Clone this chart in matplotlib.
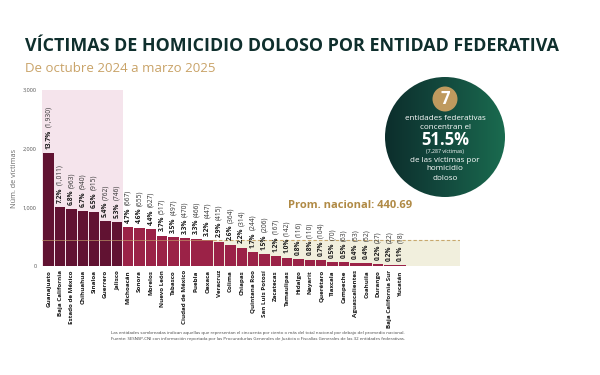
import matplotlib
matplotlib.use("Agg")
import matplotlib.pyplot as plt
import numpy as np
from matplotlib.patches import Circle, Rectangle
from matplotlib.colors import LinearSegmentedColormap

states = ["Guanajuato", "Baja California", "Estado de México", "Chihuahua", "Sinaloa",
          "Guerrero", "Jalisco", "Michoacán", "Sonora", "Morelos", "Nuevo León", "Tabasco",
          "Ciudad de México", "Puebla", "Oaxaca", "Veracruz", "Colima", "Chiapas",
          "Quintana Roo", "San Luis Potosí", "Zacatecas", "Tamaulipas", "Hidalgo", "Nayarit",
          "Querétaro", "Tlaxcala", "Campeche", "Aguascalientes", "Coahuila", "Durango",
          "Baja California Sur", "Yucatán"]
victims = [1930, 1011, 963, 940, 915, 762, 746, 667, 655, 627, 517, 497, 470, 466, 447,
           415, 364, 314, 244, 206, 167, 142, 116, 110, 104, 70, 63, 53, 52, 27, 22, 18]
pcts = [13.7, 7.2, 6.8, 6.7, 6.5, 5.4, 5.3, 4.7, 4.6, 4.4, 3.7, 3.5, 3.3, 3.3, 3.2,
        2.9, 2.6, 2.2, 1.7, 1.5, 1.2, 1.0, 0.8, 0.8, 0.7, 0.5, 0.5, 0.4, 0.4, 0.2, 0.2, 0.1]
national_avg = 440.69
n_top = 7
yticks = [0, 1000, 2000, 3000]

DARK = "#611232"
GUINDA = "#9b2247"
TITLE_C = "#0f2f2d"

plt.rcParams['font.family'] = ['Open Sans', 'DejaVu Sans']

fig = plt.figure(figsize=(6, 3.75), dpi=100)
fig.patch.set_facecolor("white")

ax = fig.add_axes([0.07, 0.2907, 0.697, 0.4693])
ax.set_facecolor("none")
x = np.arange(len(states))
colors = [DARK if i < n_top else GUINDA for i in range(len(states))]

ax.set_xlim(-0.59, 36.24)
ax.set_ylim(0, 3000)

# shaded regions
ax.add_patch(Rectangle((-0.59, 0), n_top - 0.5 + 0.59, 3000, facecolor="#f5e4ec",
                       edgecolor="none", zorder=0))
first_below = next(i for i, v in enumerate(victims) if v < national_avg)
ax.add_patch(Rectangle((first_below - 0.5, 0), 36.24 - first_below + 0.5, national_avg,
                       facecolor="#f1efdd", edgecolor="none", zorder=0))
ax.plot([-0.59, first_below - 0.5], [national_avg] * 2, color="#c8a86e", lw=0.6, alpha=0.7, zorder=3)
ax.plot([first_below - 0.5, 36.24], [national_avg] * 2, color="#c8a86e", lw=0.8,
        ls=(0, (3, 2)), zorder=3)

ax.bar(x, victims, width=0.92, color=colors, zorder=2)

for s in ax.spines.values():
    s.set_visible(False)
ax.set_yticks(yticks)
ax.set_yticklabels([f"{v:,}" for v in yticks], fontsize=4, color="#555555")
ax.tick_params(axis="y", length=0, pad=4)
ax.set_ylabel("Núm. de víctimas", fontsize=5.2, color="#666666", labelpad=3)
ax.set_xticks(x)
ax.set_xticklabels(states, rotation=90, fontsize=4.5, color="#1a1a1a", fontweight="bold")
ax.tick_params(axis="x", length=0, pad=3)

# bar labels: bold percentage + normal count
fig.canvas.draw()
renderer = fig.canvas.get_renderer()
for i, (v, p) in enumerate(zip(victims, pcts)):
    t1 = ax.annotate(f"{p:.1f}%", xy=(i, v), xytext=(0, 3), textcoords="offset points",
                     rotation=90, ha="center", va="bottom", fontsize=4.8,
                     fontweight="bold", color="#1a1a1a", zorder=4)
    bb = t1.get_window_extent(renderer)
    h_pt = bb.height * 72 / fig.dpi
    ax.annotate(f"({v:,})", xy=(i, v), xytext=(0, 3 + h_pt + 1.5), textcoords="offset points",
                rotation=90, ha="center", va="bottom", fontsize=4.8,
                color="#333333", zorder=4)

# average label
fig.text(288 / 600, 1 - 206 / 375, f"Prom. nacional: {national_avg:.2f}", fontsize=8,
         fontweight="bold", color="#b08a45", ha="left", va="center")

# Title & subtitle (fit title to reference width)
title = fig.text(25 / 600, 1 - 46 / 375, "VÍCTIMAS DE HOMICIDIO DOLOSO POR ENTIDAD FEDERATIVA",
                 fontsize=14, fontweight="bold", color=TITLE_C, ha="left", va="center")
w = title.get_window_extent(renderer).width
title.set_fontsize(14 * 537 / w)
fig.text(25 / 600, 1 - 68 / 375, "De octubre 2024 a marzo 2025", fontsize=9.5,
         color="#c9a368", ha="left", va="center")

# circle with gradient
cax = fig.add_axes([0, 0, 1, 1], facecolor="none")
cax.set_xlim(0, 600)
cax.set_ylim(375, 0)
cax.set_axis_off()
cx, cy, r = 445, 137, 60
grad = np.linspace(0, 1, 256).reshape(1, -1)
cmap = LinearSegmentedColormap.from_list("g", ["#0c2e2c", "#134a3e", "#1a6b4f"])
im = cax.imshow(grad, cmap=cmap, extent=[cx - r, cx + r, cy + r, cy - r], aspect="auto", zorder=1)
circ = Circle((cx, cy), r, transform=cax.transData, facecolor="none", edgecolor="none")
cax.add_patch(circ)
im.set_clip_path(circ)
cax.add_patch(Circle((cx, 99), 12.5, facecolor="#bf9a5e", edgecolor="none", zorder=3))
cax.text(cx, 99.5, "7", color="white", fontsize=12, fontweight="bold", ha="center", va="center", zorder=4)
cax.text(cx, 118, "entidades federativas", color="white", fontsize=5.8, ha="center", va="center", zorder=4)
cax.text(cx, 127.5, "concentran el", color="white", fontsize=5.8, ha="center", va="center", zorder=4)
cax.text(cx, 140, "51.5%", color="white", fontsize=12, fontweight="bold", ha="center", va="center", zorder=4)
cax.text(cx, 151.5, "(7,287 víctimas)", color="white", fontsize=3.8, ha="center", va="center", zorder=4)
cax.text(cx, 160, "de las víctimas por", color="white", fontsize=5.8, ha="center", va="center", zorder=4)
cax.text(cx, 169, "homicidio", color="white", fontsize=5.8, ha="center", va="center", zorder=4)
cax.text(cx, 178, "doloso", color="white", fontsize=5.8, ha="center", va="center", zorder=4)

# footnote
cax.text(258, 333, "Las entidades sombreadas indican aquellas que representan el cincuenta por ciento o más del total nacional por debajo del promedio nacional.",
         fontsize=3.2, color="#444444", ha="center", va="center")
cax.text(258, 339, "Fuente: SESNSP-CNI con información reportada por las Procuradurías Generales de Justicia o Fiscalías Generales de las 32 entidades federativas.",
         fontsize=3.2, color="#444444", ha="center", va="center")

fig.savefig("out.png", dpi=100, facecolor="white")
